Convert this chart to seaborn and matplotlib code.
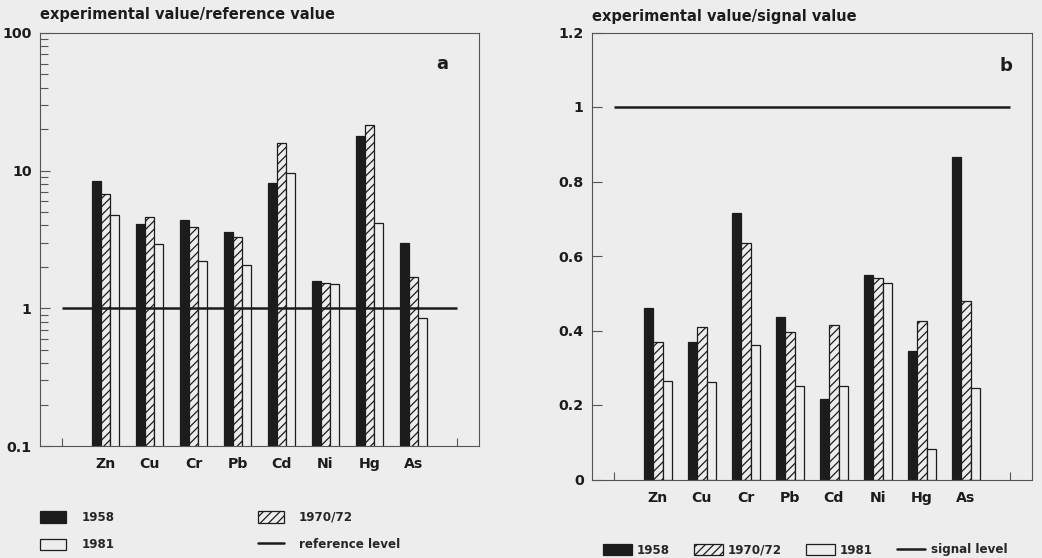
import matplotlib
matplotlib.use('Agg')
import matplotlib.pyplot as plt
import matplotlib.patches as mpatches
import seaborn as sns
import pandas as pd
from matplotlib.lines import Line2D
from matplotlib.ticker import FixedLocator, FixedFormatter, LogLocator, NullFormatter

elements = ['Zn', 'Cu', 'Cr', 'Pb', 'Cd', 'Ni', 'Hg', 'As']
years = ['1958', '1970/72', '1981']

# panel a: experimental value / reference value (log axis)
ref_1958 = [8.4, 4.1, 4.4, 3.6, 8.2, 1.57, 17.8, 3.0]
ref_1970 = [6.8, 4.6, 3.9, 3.3, 15.9, 1.54, 21.6, 1.70]
ref_1981 = [4.8, 2.94, 2.19, 2.07, 9.6, 1.51, 4.16, 0.85]

# panel b: experimental value / signal value
sig_1958 = [0.46, 0.37, 0.715, 0.435, 0.215, 0.55, 0.345, 0.865]
sig_1970 = [0.37, 0.41, 0.635, 0.395, 0.415, 0.54, 0.425, 0.48]
sig_1981 = [0.265, 0.263, 0.36, 0.25, 0.25, 0.528, 0.083, 0.245]

left_yticks = [0.1, 1, 10, 100]
left_ylabels = ['0.1', '1', '10', '100']
right_yticks = [0, 0.2, 0.4, 0.6, 0.8, 1.0, 1.2]
right_ylabels = ['0', '0.2', '0.4', '0.6', '0.8', '1', '1.2']


def long_df(a, b, c):
    return pd.DataFrame({
        'element': elements * 3,
        'year': [y for y in years for _ in elements],
        'value': a + b + c,
    })


bg = '#ededed'
ink = '#1c1c1c'
frame = '#555555'
hatch = '////'

sns.set_style('ticks')
plt.rcParams['font.family'] = ['DejaVu Sans']
plt.rcParams['font.weight'] = 'bold'
plt.rcParams['hatch.linewidth'] = 0.9
plt.rcParams['hatch.color'] = ink

fig = plt.figure(figsize=(10.42, 5.58), dpi=100, facecolor=bg)
ax1 = fig.add_axes([40 / 1042, 1 - 446 / 558, 439 / 1042, 413 / 558])
ax2 = fig.add_axes([592 / 1042, 1 - 479.5 / 558, 440 / 1042, 447 / 558])

palette = {'1958': ink, '1970/72': bg, '1981': bg}

for ax, df in [(ax1, long_df(ref_1958, ref_1970, ref_1981)),
               (ax2, long_df(sig_1958, sig_1970, sig_1981))]:
    ax.set_facecolor(bg)
    sns.barplot(data=df, x='element', y='value', hue='year', hue_order=years,
                palette=palette, width=0.62, edgecolor=ink, linewidth=0.9,
                saturation=1, errorbar=None, legend=False, ax=ax)
    for bar in ax.containers[1]:
        bar.set_hatch(hatch)
    ax.set_xlim(-1.5, 8.5)
    ax.set_xlabel('')
    ax.set_ylabel('')
    # small inward ticks at both ends of the baseline only
    ax.set_xticks([-1, 8], minor=True)
    ax.tick_params(axis='x', which='major', length=0, pad=8, labelsize=10.2, labelcolor=ink)
    ax.tick_params(axis='x', which='minor', direction='in', length=6, width=0.8, color=frame)
    ax.tick_params(axis='y', which='both', direction='in', width=0.8, color=frame,
                   labelsize=10.3, labelcolor=ink, pad=6)
    ax.tick_params(axis='y', which='major', length=7)
    ax.tick_params(axis='y', which='minor', length=6)
    for s in ax.spines.values():
        s.set_color(frame)
        s.set_linewidth(0.8)

# panel a
ax1.set_yscale('log')
ax1.set_ylim(0.1, 100)
ax1.yaxis.set_major_locator(FixedLocator(left_yticks))
ax1.yaxis.set_major_formatter(FixedFormatter(left_ylabels))
ax1.yaxis.set_minor_locator(LogLocator(base=10, subs=range(2, 10)))
ax1.yaxis.set_minor_formatter(NullFormatter())
ax1.hlines(1, -1, 8, color=ink, lw=1.8, zorder=5)
ax1.text(0.916, 0.925, 'a', transform=ax1.transAxes, fontsize=13, ha='center', va='center', color=ink)

# panel b
ax2.set_ylim(0, 1.2)
ax2.yaxis.set_major_locator(FixedLocator(right_yticks))
ax2.yaxis.set_major_formatter(FixedFormatter(right_ylabels))
ax2.hlines(1, -1, 8, color=ink, lw=1.8, zorder=5)
ax2.text(0.94, 0.925, 'b', transform=ax2.transAxes, fontsize=13, ha='center', va='center', color=ink)

fig.text(40 / 1042, 1 - 15 / 558, 'experimental value/reference value',
         fontsize=10.5, ha='left', va='center', color=ink)
fig.text(592 / 1042, 1 - 17 / 558, 'experimental value/signal value',
         fontsize=10.5, ha='left', va='center', color=ink)

h58 = mpatches.Patch(facecolor=ink, edgecolor=ink, lw=0.9, label='1958')
h70 = mpatches.Patch(facecolor=bg, edgecolor=ink, lw=0.9, hatch=hatch, label='1970/72')
h81 = mpatches.Patch(facecolor=bg, edgecolor=ink, lw=0.9, label='1981')

ref_line = Line2D([], [], color=ink, lw=1.8, label='reference level')
leg1 = fig.legend(handles=[h58, h81, h70, ref_line], ncol=2, frameon=False,
                  loc='upper left', bbox_to_anchor=(40 / 1042, 1 - 511 / 558),
                  fontsize=8.6, handlelength=2.2, handleheight=1.1,
                  handletextpad=1.25, labelspacing=1.2, columnspacing=12.0,
                  borderpad=0, borderaxespad=0)

sig_line = Line2D([], [], color=ink, lw=1.8, label='signal level')
leg2 = fig.legend(handles=[h58, h70, h81, sig_line], ncol=4, frameon=False,
                  loc='center left', bbox_to_anchor=(603 / 1042, 1 - 550 / 558),
                  fontsize=8.6, handlelength=2.4, handleheight=1.1,
                  handletextpad=0.45, columnspacing=2.0,
                  borderpad=0, borderaxespad=0)

fig.savefig('out.png', dpi=100, facecolor=bg)
